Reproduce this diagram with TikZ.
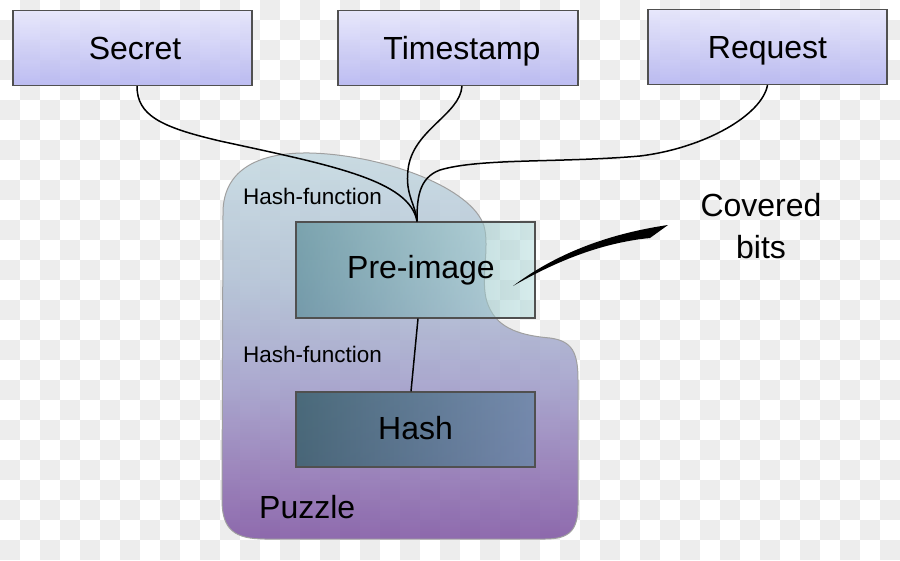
\documentclass[tikz,border=0pt]{standalone}
\usepackage{fontspec}
\setmainfont{Liberation Sans}
\definecolor{checkgray}{RGB}{237,237,237}
\definecolor{boxtop}{RGB}{228,228,252}
\definecolor{boxbot}{RGB}{178,178,240}
\definecolor{edgegray}{RGB}{80,80,80}
\definecolor{blobedge}{RGB}{160,160,160}
\definecolor{preleft}{RGB}{66,126,136}
\definecolor{preright}{RGB}{182,222,222}
\definecolor{hashleft}{RGB}{58,96,108}
\definecolor{hashright}{RGB}{108,134,168}
\pgfdeclareverticalshading{blobshade}{100bp}{%
  rgb(0bp)=(0.50,0.34,0.64);
  rgb(25bp)=(0.50,0.34,0.64);
  rgb(33bp)=(0.56,0.45,0.70);
  rgb(45bp)=(0.63,0.62,0.79);
  rgb(58bp)=(0.69,0.75,0.83);
  rgb(75bp)=(0.77,0.85,0.88);
  rgb(100bp)=(0.77,0.85,0.88)}
\tikzset{
  bigtext/.style={font=\fontsize{32}{42}\selectfont},
  smalltext/.style={font=\fontsize{22.5}{27}\selectfont},
  inbox/.style={draw=edgegray, line width=1.2pt, top color=boxtop, bottom color=boxbot,
    fill opacity=0.85, text opacity=1, minimum width=239pt, minimum height=75pt,
    inner sep=0pt, bigtext, text height=23pt, text depth=0pt},
  prebox/.style={draw=edgegray, line width=1.2pt, left color=preleft, right color=preright,
    fill opacity=0.55, text opacity=1, minimum width=239pt, minimum height=96pt,
    inner sep=0pt, bigtext, text height=23pt, text depth=7pt},
  hashbox/.style={draw=edgegray, line width=1.2pt, left color=hashleft, right color=hashright,
    fill opacity=0.85, text opacity=1, minimum width=239pt, minimum height=75pt,
    inner sep=0pt, bigtext, text height=23pt, text depth=3pt},
  blob/.style={draw=blobedge, line width=1pt, shading=blobshade, fill opacity=0.88},
  conn/.style={draw=black, line width=1.5pt},
  lbl/.style={inner sep=0pt, text=black},
}
\begin{document}
\begin{tikzpicture}[x=1pt,y=-1pt]
\useasboundingbox (0,0) rectangle (900,560);
% checkerboard background
\fill[white] (0,0) rectangle (900,560);
\foreach \r in {0,...,27}{%
  \foreach \c in {0,...,44}{%
    \pgfmathtruncatemacro\m{mod(\r+\c,2)}%
    \ifnum\m=1 \fill[checkgray] (\c*20,\r*20) rectangle ++(20,20);\fi
  }%
}
% puzzle region
\path[blob] (223,215) .. controls (222,172) and (255,152) .. (310,153)
  .. controls (385,155) and (472,188) .. (484,226)
  .. controls (490,248) and (480,280) .. (487,302)
  .. controls (495,326) and (515,335) .. (550,338)
  .. controls (572,341) and (578,352) .. (578,380)
  -- (578,505)
  .. controls (578,530) and (570,539) .. (545,539)
  -- (265,539)
  .. controls (235,539) and (222,530) .. (222,500)
  -- cycle;
% boxes
\node[inbox] (secret) at (132.5,48) {\hspace*{5pt}Secret};
\node[inbox, minimum width=240pt] (ts) at (458,48) {\hspace*{8pt}Timestamp};
\node[inbox] (req) at (767.5,47) {Request};
\node[prebox] (pre) at (415.5,270) {\hspace*{11pt}Pre-image};
\node[hashbox] (hash) at (415.5,429.5) {Hash};
% labels
\node[lbl, smalltext, anchor=base west] (hf1) at (243,204) {Hash-function};
\node[lbl, smalltext, anchor=base west] (hf2) at (243,362) {Hash-function};
\node[lbl, bigtext, anchor=base west] (puzzle) at (259,518) {Puzzle};
\node[lbl, bigtext, align=center] (covered) at (761,226.5) {Covered\\bits};
% connectors
\draw[conn] ([xshift=4.5pt]secret.south) .. controls (137,115) and (160,127) .. (220,141)
  .. controls (330,165) and (410,180) .. ([xshift=1.5pt]pre.north);
\draw[conn] ([xshift=4pt]ts.south) .. controls (460,115) and (412,130) .. (408,170)
  .. controls (405,195) and (416,205) .. ([xshift=1.5pt]pre.north);
\draw[conn] (req.south) .. controls (762,115) and (705,148) .. (640,156)
  .. controls (560,163) and (480,158) .. (440,170)
  .. controls (418,178) and (417,200) .. ([xshift=1.5pt]pre.north);
\draw[conn] ([xshift=2.5pt]pre.south) -- ([xshift=-4.5pt]hash.north);
% covered-bits pointer
\coordinate (ptrA) at (513,286);
\coordinate (ptrB) at (668,225);
\fill[black] (ptrA) .. controls (550,258) and (600,235) .. (ptrB)
  -- (650,238) .. controls (600,243) and (555,262) .. (ptrA) -- cycle;
\end{tikzpicture}
\end{document}
